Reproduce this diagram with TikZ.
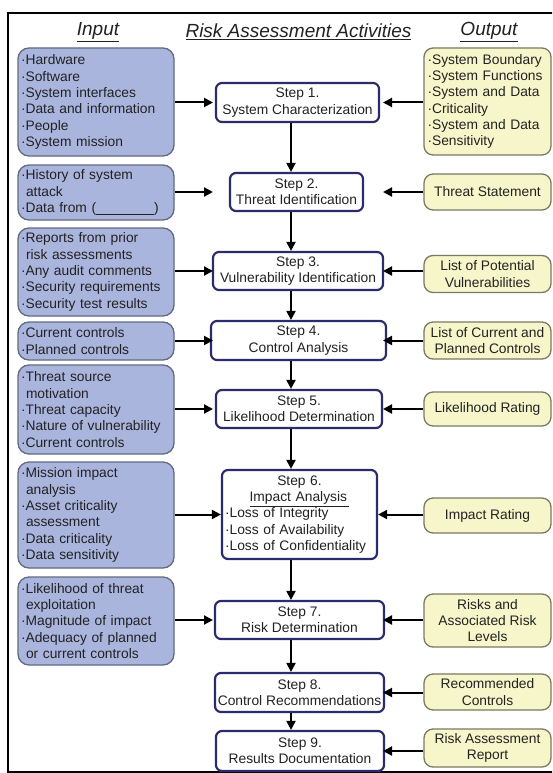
\documentclass[tikz,border=0pt]{standalone}
\usepackage{fontspec}
\setmainfont{Liberation Sans}
\usetikzlibrary{arrows.meta}

\definecolor{inFill}{RGB}{170,181,222}
\definecolor{inDraw}{RGB}{98,106,128}
\definecolor{stepDraw}{RGB}{44,44,108}
\definecolor{outFill}{RGB}{246,246,202}
\definecolor{outDraw}{RGB}{122,122,98}
\definecolor{ink}{RGB}{34,34,34}

\newcommand\bu{·}
\newcommand\ind{\hspace*{5pt}}

\tikzset{
  body/.style={font=\fontsize{13.8}{16.3}\selectfont, text=ink},
  inbox/.style={body, draw=inDraw, fill=inFill, line width=1.3pt,
    rounded corners=11pt, text width=150pt, inner xsep=3pt, inner ysep=0pt,
    align=left, minimum width=156pt},
  outbox/.style={body, draw=outDraw, fill=outFill, line width=1.3pt,
    rounded corners=9pt, inner sep=0pt, align=center, minimum width=127pt},
  outlist/.style={outbox, text width=120pt, inner xsep=3.5pt, align=left},
  stepbox/.style={body, draw=stepDraw, fill=white, line width=2.2pt,
    rounded corners=6pt, inner sep=0pt, align=center},
  head/.style={font=\fontsize{19}{22}\selectfont\itshape, text=ink},
  arr/.style={draw=black, line width=2pt, -{Triangle[length=9pt,width=9pt]}},
}

\begin{document}
\begin{tikzpicture}[x=1pt, y=-1pt]
\useasboundingbox (0,0) rectangle (552,773);
\clip (0,0) rectangle (552,773);

% outer frame
\draw[line width=2.4pt, fill=white] (8,13) rectangle (600,772.5);

% column headings
\node[head] (hin)   at (98,32)    {\underline{Input}};
\node[head] (hrisk) at (298.5,32) {\underline{Risk Assessment Activities}};
\node[head] (hout)  at (489,32)   {\underline{Output}};

% reference points for the arrow spine and arrow tips
\coordinate (spine) at (291,0);
\coordinate (tipL) at (213,0);
\coordinate (tipR) at (383,0);

% activities
\node[stepbox, minimum width=163pt, minimum height=39pt] (s1) at (297.5,102.5)
  {Step 1.\\System Characterization};
\node[stepbox, minimum width=133pt, minimum height=38pt] (s2) at (296.5,192)
  {Step 2.\\Threat Identification};
\node[stepbox, minimum width=170pt, minimum height=38pt] (s3) at (298,271)
  {Step 3.\\Vulnerability Identification};
\node[stepbox, minimum width=175pt, minimum height=39pt] (s4) at (298.5,340.5)
  {Step 4.\\Control Analysis};
\node[stepbox, minimum width=166pt, minimum height=38pt] (s5) at (299,409)
  {Step 5.\\Likelihood Determination};
\node[stepbox, minimum width=155pt, minimum height=89pt, text width=149pt,
      inner xsep=3pt, align=left] (s6) at (299.5,514.5)
  {\makebox[149pt]{Step 6.}\\
   \makebox[149pt]{\underline{Impact Analysis\,}}\\
   \bu Loss of Integrity\\
   \bu Loss of Availability\\
   \bu Loss of Confidentiality};
\node[stepbox, minimum width=169pt, minimum height=38pt] (s7) at (299.5,620)
  {Step 7.\\Risk Determination};
\node[stepbox, minimum width=169pt, minimum height=39pt] (s8) at (299.5,692.5)
  {Step 8.\\Control Recommendations};
\node[stepbox, minimum width=168pt, minimum height=40pt] (s9) at (300,751)
  {Step 9.\\Results Documentation};

% inputs
\node[inbox, minimum height=108pt] (in1) at (96,102)
  {\bu Hardware\\\bu Software\\\bu System interfaces\\\bu Data and information\\\bu People\\\bu System mission};
\node[inbox, minimum height=55pt] (in2) at (96,192.5)
  {\bu History of system\\\ind attack\\\bu Data from (\underline{\hspace{58pt}})};
\node[inbox, minimum height=88pt] (in3) at (96,272)
  {\bu Reports from prior\\\ind risk assessments\\\bu Any audit comments\\\bu Security requirements\\\bu Security test results};
\node[inbox, minimum height=38pt] (in4) at (96,341)
  {\bu Current controls\\\bu Planned controls};
\node[inbox, minimum height=89pt] (in5) at (96,409.5)
  {\bu Threat source\\\ind motivation\\\bu Threat capacity\\\bu Nature of vulnerability\\\bu Current controls};
\node[inbox, minimum height=106pt] (in6) at (96,515)
  {\bu Mission impact\\\ind analysis\\\bu Asset criticality\\\ind assessment\\\bu Data criticality\\\bu Data sensitivity};
\node[inbox, minimum height=88pt] (in7) at (96,621)
  {\bu Likelihood of threat\\\ind exploitation\\\bu Magnitude of impact\\\bu Adequacy of planned\\\ind or current controls};

% outputs
\node[outlist, minimum height=107pt] (o1) at (487.5,101.5)
  {\bu System Boundary\\\bu System Functions\\\bu System and Data\\\bu Criticality\\\bu System and Data\\\bu Sensitivity};
\node[outbox, minimum height=36pt] (o2) at (487.5,192) {Threat Statement};
\node[outbox, minimum height=37pt] (o3) at (487.5,274) {List of Potential\\Vulnerabilities};
\node[outbox, minimum height=37pt] (o4) at (487.5,340.5) {List of Current and\\Planned Controls};
\node[outbox, minimum height=34pt] (o5) at (487.5,409) {Likelihood Rating};
\node[outbox, minimum height=35pt] (o6) at (487.5,515.5) {Impact Rating};
\node[outbox, minimum height=53pt] (o7) at (487.5,620.5) {Risks and\\Associated Risk\\Levels};
\node[outbox, minimum height=36pt] (o8) at (487.5,692) {Recommended\\Controls};
\node[outbox, minimum height=38pt] (o9) at (487.5,748) {Risk Assessment\\Report};

% flow between the activities
\foreach \a/\b in {s1/s2,s2/s3,s3/s4,s4/s5,s5/s6,s6/s7,s7/s8,s8/s9}
  \draw[arr] (\a.south -| spine) -- (\b.north -| spine);

% inputs feeding each activity
\foreach \i/\s in {in1/s1,in2/s2,in3/s3,in4/s4,in5/s5,in7/s7}
  \draw[arr] (\i.east |- \s) -- (tipL |- \s);
\draw[arr] (in6.east |- s6) -- (s6.west);

% outputs produced by each activity
\foreach \o/\s in {o1/s1,o2/s2,o3/s3,o4/s4,o5/s5,o7/s7,o8/s8,o9/s9}
  \draw[arr] (\o.west |- \s) -- (tipR |- \s);
\draw[arr] (o6.west |- s6) -- (s6.east);
\end{tikzpicture}
\end{document}
